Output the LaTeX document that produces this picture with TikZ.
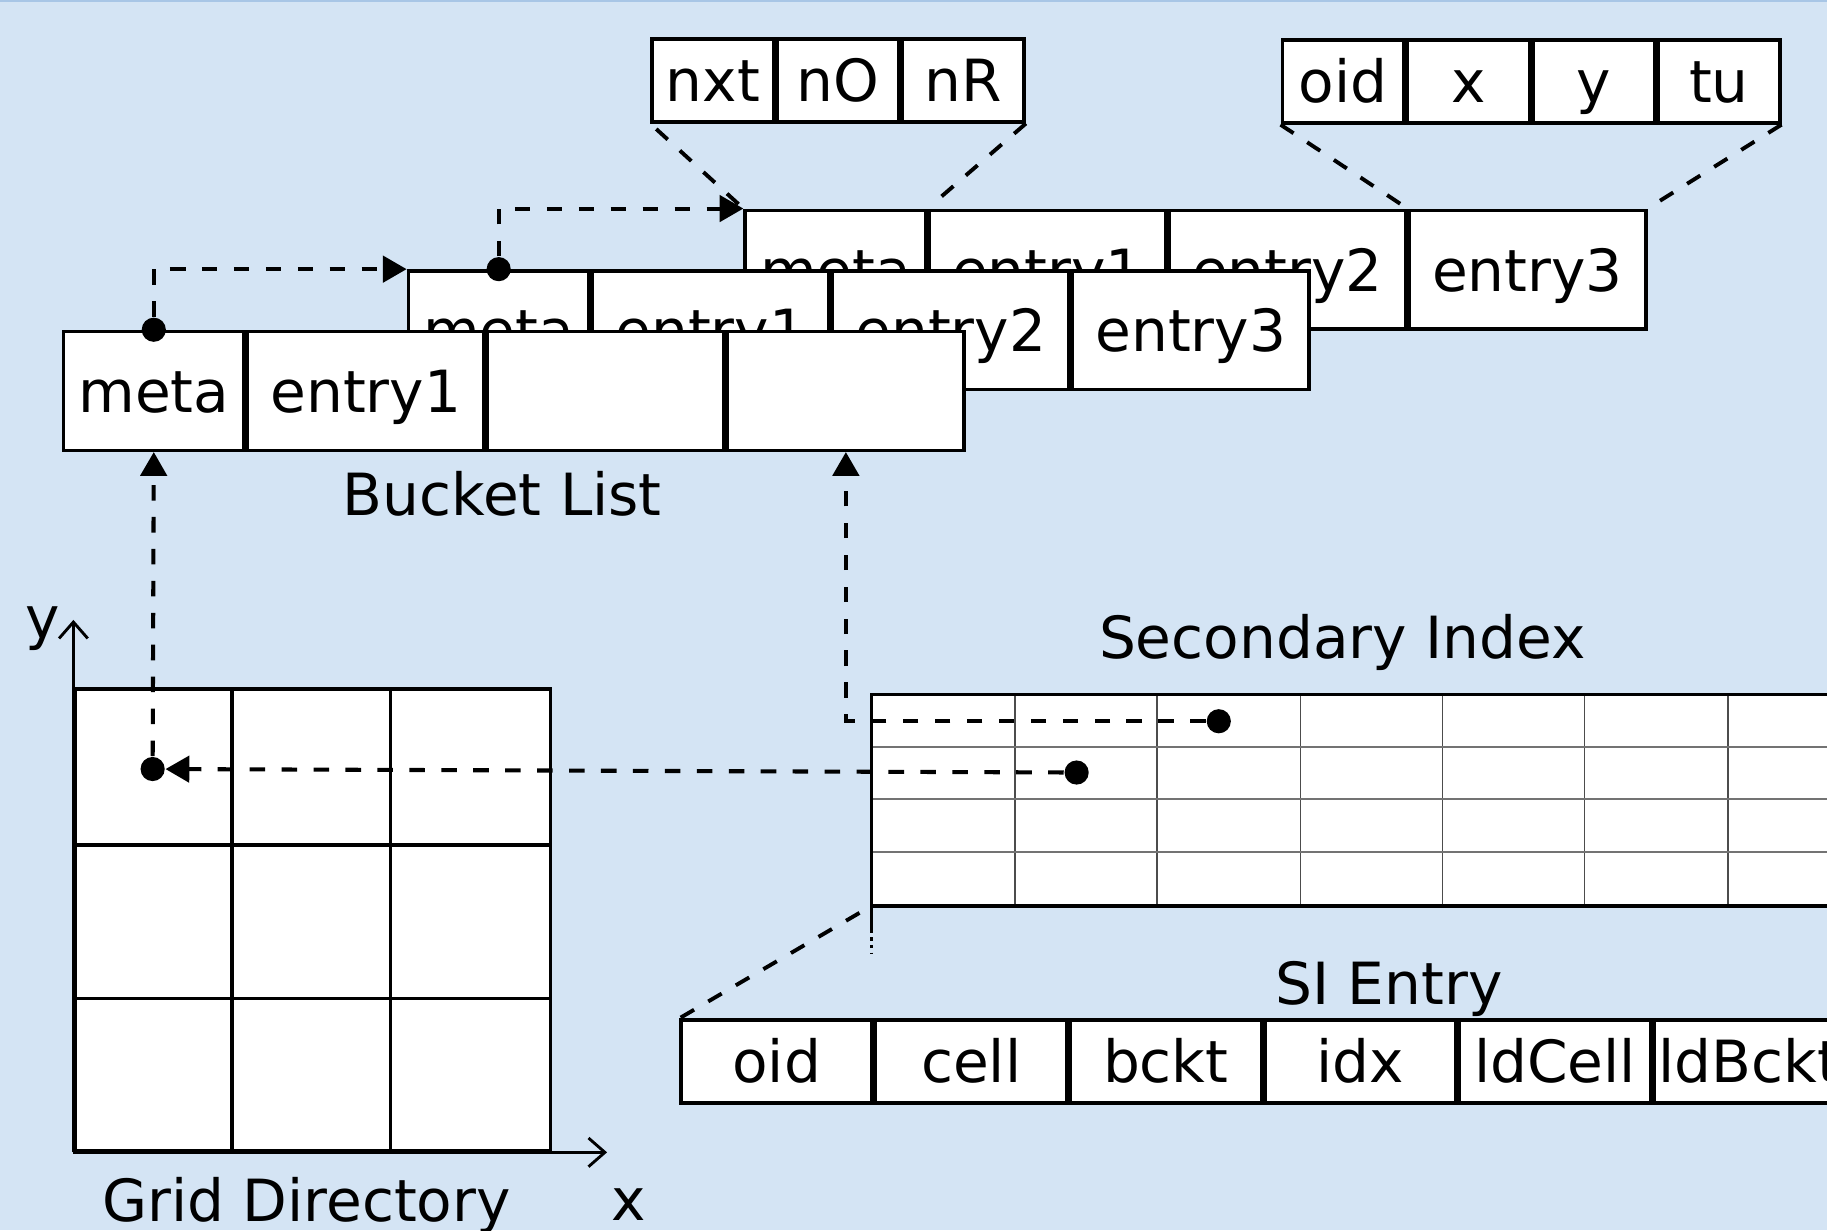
\documentclass[tikz,border=0pt]{standalone}
\usepackage{fontspec}
\setmainfont{DejaVu Sans}
\usepackage{tikz}
\usetikzlibrary{arrows.meta, positioning}
\definecolor{bgBlue}{HTML}{D4E4F4}
\definecolor{rimBlue}{HTML}{A8C6E6}
\tikzstyle{cell} = [rectangle, draw=black, fill=white, line width=0.85pt, inner sep=0pt, minimum height=1.02cm, text height=10.4pt, text depth=0pt, text centered]
\tikzstyle{metaCell} = [cell, minimum width=1.55cm]
\tikzstyle{entryCell} = [cell, minimum width=2.03cm]
\tikzstyle{fieldCell} = [cell, minimum height=0.71cm, minimum width=1.045cm]
\tikzstyle{siField} = [cell, minimum height=0.71cm, minimum width=1.64cm]
\tikzstyle{partName} = [inner sep=0pt, text height=10.4pt, text depth=0pt]
\tikzstyle{solidNode} = [circle, minimum size=5.9pt, inner sep=0pt, fill=black]
\tikzstyle{ptr} = [line width=1pt, dash pattern=on 3.8pt off 4pt, -{Triangle[length=5.8pt,width=6.4pt]}]
\tikzstyle{zoomLine} = [line width=0.95pt, dash pattern=on 3.8pt off 4pt]
\tikzstyle{axisLine} = [line width=0.7pt, -{Straight Barb[length=4pt,width=7pt]}]

\begin{document}
\begin{tikzpicture}[node distance=0pt, font=\fontsize{14.2}{17}\selectfont]
\path [fill=bgBlue, use as bounding box] (0,0) rectangle (15.68,10.56);
\clip (0,0) rectangle (15.68,10.56);
\draw [rimBlue, line width=0.6pt] (0,10.55) -- (15.68,10.55);

% bucket list, back to front
\node (bMeta) [metaCell, anchor=north west] at (6.38,8.77) {meta};
\node (bE1) [entryCell, right=of bMeta] {entry1};
\node (bE2) [entryCell, right=of bE1] {entry2};
\node (bE3) [entryCell, right=of bE2] {entry3};

\node (mMeta) [metaCell, anchor=north west] at (3.49,8.25) {meta};
\node (mE1) [entryCell, right=of mMeta] {entry1};
\node (mE2) [entryCell, right=of mE1] {entry2};
\node (mE3) [entryCell, right=of mE2] {entry3};

\node (fMeta) [metaCell, anchor=north west] at (0.53,7.73) {meta};
\node (fE1) [entryCell, right=of fMeta] {entry1};
\node (fE2) [entryCell, right=of fE1] {};
\node (fE3) [entryCell, right=of fE2] {};
\node [partName] at (4.31,6.32) {Bucket List};

% header and entry fields
\node (hNxt) [fieldCell, anchor=south west] at (5.58,9.50) {nxt};
\node (hNO) [fieldCell, right=of hNxt] {nO};
\node (hNR) [fieldCell, right=of hNO] {nR};
\node (eOid) [fieldCell, anchor=south west] at (10.99,9.49) {oid};
\node (eX) [fieldCell, right=of eOid] {x};
\node (eY) [fieldCell, right=of eX] {y};
\node (eTu) [fieldCell, right=of eY] {tu};
\draw [zoomLine, shorten <=2pt] (hNxt.south west) -- (bMeta.north west);
\draw [zoomLine, shorten >=2pt] (hNR.south east) -- (bMeta.north east);
\draw [zoomLine] (eOid.south west) -- (bE3.north west);
\draw [zoomLine, shorten >=2pt] (eTu.south east) -- (bE3.north east);

% grid directory
\node (grid) [rectangle, draw, fill=white, line width=0.85pt, inner sep=0pt, minimum width=4.08cm, minimum height=3.96cm, anchor=south west] at (0.63,0.67) {};
\foreach \x in {1.99,3.35} \draw [line width=0.85pt] (\x,0.67) -- (\x,4.63);
\foreach \y in {1.99,3.31} \draw [line width=0.85pt] (0.63,\y) -- (4.71,\y);
\coordinate (yTip) at (0.63,5.24);
\coordinate (xTip) at (5.21,0.67);
\draw [axisLine] (grid.south west) -- (yTip);
\draw [axisLine] (grid.south west) -- (xTip);
\node [partName] at (0.37,5.26) {y};
\node [partName] at (5.40,0.27) {x};
\node [partName] at (2.63,0.26) {Grid Directory};

% secondary index
\node (si) [rectangle, fill=white, inner sep=0pt, minimum width=9.8cm, minimum height=1.8cm, anchor=north west] at (7.48,4.60) {};
\foreach \x in {8.71,9.93,11.16,12.38,13.60,14.83} \draw [black!70, line width=0.35pt] (\x,2.80) -- (\x,4.60);
\foreach \y in {3.25,3.70,4.15} \draw [black!55, line width=0.45pt] (7.48,\y) -- (17.28,\y);
\draw [line width=0.85pt] (si.south west) rectangle (si.north east);
\node [partName] at (11.52,5.095) {Secondary Index};
\coordinate (siFoot) at (7.48,2.58);
\coordinate (siTail) at (7.48,2.38);
\draw [line width=0.85pt] (si.south west) -- (siFoot);
\draw [line width=0.85pt, densely dotted] (siFoot) -- (siTail);

% SI entry
\node (sOid) [siField, anchor=south west] at (5.83,1.08) {oid};
\node (sCell) [siField, right=of sOid] {cell};
\node (sBckt) [siField, right=of sCell] {bckt};
\node (sIdx) [siField, right=of sBckt] {idx};
\node (sLdCell) [siField, right=of sIdx] {ldCell};
\node (sLdBckt) [siField, right=of sLdCell] {ldBckt};
\node [partName] at (11.92,2.125) {SI Entry};
\draw [zoomLine, shorten <=0.12cm] (si.south west) -- (sOid.north west);

% pointers
\node (fDot) [solidNode] at (fMeta.north) {};
\node (mDot) [solidNode] at (mMeta.north) {};
\node (gDot) [solidNode] at (1.31,3.96) {};
\node (sDot1) [solidNode] at (10.46,4.37) {};
\node (sDot2) [solidNode] at (9.24,3.93) {};
\draw [ptr] (fDot) |- (mMeta.north west);
\draw [ptr] (mDot) |- (bMeta.north west);
\draw [ptr] (gDot) -- (fMeta.south);
\draw [ptr] (sDot2) -- (gDot);
\draw [ptr] (sDot1) -| (fE3.south);
\end{tikzpicture}
\end{document}
